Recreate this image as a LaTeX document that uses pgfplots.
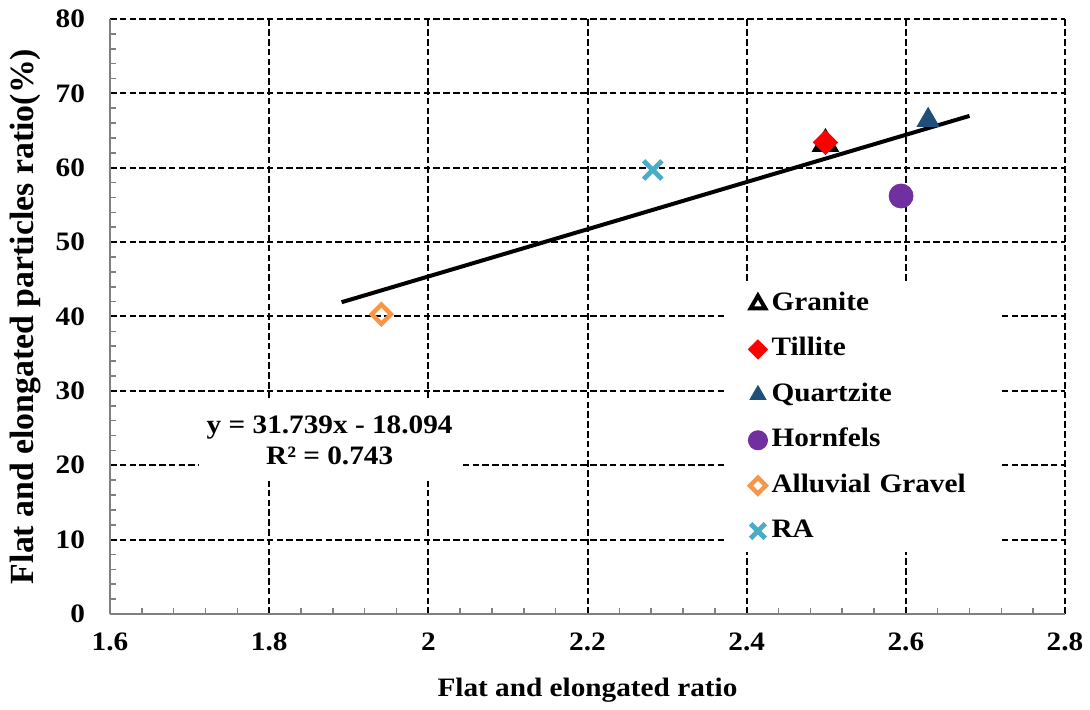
\documentclass[border=0pt]{standalone}
\usepackage{fontspec}
\setmainfont[FakeStretch=1.1]{Liberation Serif}
\newfontfamily\plainfont{Liberation Serif}
\usepackage{pgfplots}
\pgfplotsset{compat=1.18}
\definecolor{quartz}{HTML}{1F4E79}
\definecolor{hornf}{HTML}{7030A0}
\definecolor{alluv}{HTML}{F79646}
\definecolor{raclr}{HTML}{4BACC6}
\definecolor{axgray}{HTML}{808080}
\newcommand{\ff}{\fontsize{13.3}{15.5}\selectfont\bfseries}
\begin{document}
\begin{tikzpicture}
\begin{axis}[
  scale only axis, width=477.5pt, height=297.5pt,
  xmin=1.6, xmax=2.8, ymin=0, ymax=80,
  xtick={1.6,1.8,...,2.81}, ytick={0,10,...,80},
  minor x tick num=4, minor y tick num=4,
  axis x line*=bottom, axis y line*=left,
  axis line style={draw=axgray, line width=1pt, -},
  tick align=inside, major tick length=0pt, minor tick length=3pt,
  every tick/.style={draw=axgray, line width=0.8pt},
  grid=major,
  major grid style={black, line width=1pt, dash pattern=on 3.3pt off 1.6pt},
  /pgf/number format/assume math mode=true,
  tick label style={font=\ff},
  xticklabel style={yshift=-6pt},
  yticklabel style={xshift=-9pt},
  xlabel={Flat and elongated ratio},
  ylabel={Flat and elongated particles ratio(\%)},
  every axis x label/.style={at={(axis description cs:0.5,-0.128)}, anchor=center, font=\ff},
  every axis y label/.style={at={(axis description cs:-0.088,0.50)}, rotate=90, anchor=center, font=\plainfont\fontsize{16.9}{19}\selectfont\bfseries},
  legend style={at={(axis description cs:0.646,0.556)}, anchor=north west,
    draw=none, fill=white, inner xsep=10.5pt, inner ysep=2pt,
    font=\ff, row sep=6.2pt,
    text width=101pt,
    nodes={text height=9.5pt, text depth=3pt, inner sep=2pt}},
  legend cell align=left,
  legend image code/.code={\draw[mark repeat=2,mark phase=2] plot coordinates {(0cm,0cm) (0.15cm,0cm) (0.3cm,0cm)};},
  clip=false,
]
\addplot[only marks, mark=triangle, mark size=6pt, mark options={draw=black, line width=2pt, fill=white},
  legend image post style={mark size=4.2pt, line width=1.8pt}] coordinates {(2.499,63.2)};
\addlegendentry{Granite}
\addplot[only marks, mark=square*, mark size=4.3pt, mark options={rotate=45, draw=red, fill=red},
  legend image post style={mark size=3.4pt}] coordinates {(2.499,63.4)};
\addlegendentry{Tillite}
\addplot[only marks, mark=triangle*, mark size=6.3pt, mark options={draw=quartz, fill=quartz},
  legend image post style={mark size=4.6pt}] coordinates {(2.628,66.4)};
\addlegendentry{Quartzite}
\addplot[only marks, mark=*, mark size=6pt, mark options={draw=hornf, fill=hornf},
  legend image post style={mark size=4.8pt}] coordinates {(2.594,56.2)};
\addlegendentry{Hornfels}
\addplot[only marks, mark=square, mark size=3.4pt, mark options={rotate=45, draw=alluv, fill=white, line width=2.2pt},
  legend image post style={mark size=2.8pt, line width=1.9pt}] coordinates {(1.941,40.3)};
\addlegendentry{Alluvial Gravel}
\addplot[only marks, mark=x, mark size=6.5pt, mark options={draw=raclr, line width=2.4pt},
  legend image post style={mark size=5.2pt, line width=2pt}] coordinates {(2.282,59.7)};
\addlegendentry{RA}
\addplot[black, line width=2pt, forget plot] coordinates {(1.891,41.92) (2.680,66.97)};
\node[fill=white, align=center, font=\ff, minimum width=131pt, minimum height=41pt, inner sep=0pt] at (axis cs:1.876,23.4) {y = 31.739x - 18.094\\R² = 0.743};
\end{axis}
\pgfresetboundingbox
\path[use as bounding box] ([shift={(-55pt,-48pt)}]current axis.south west) rectangle ([shift={(12.5pt,9.5pt)}]current axis.north east);
\end{tikzpicture}
\end{document}
